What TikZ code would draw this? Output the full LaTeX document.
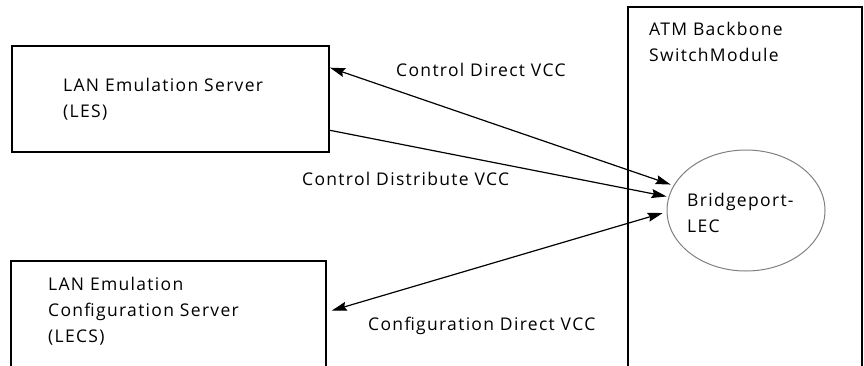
\documentclass[tikz,border=0pt]{standalone}
\usepackage{fontspec}
\setmainfont{Open Sans}[LetterSpace=7.5]
\usetikzlibrary{arrows.meta,calc,shapes.geometric}
\tikzset{
  box/.style={draw=black, line width=2pt, rectangle, inner sep=0pt},
  lecnode/.style={draw=black!50, line width=1pt, ellipse, inner sep=0pt},
  lbl/.style={anchor=west, inner sep=0pt, align=left, font=\fontsize{17.5}{26}\selectfont},
  link/.style={line width=1.2pt, {Stealth[length=15pt,width=9pt,inset=2pt]}-{Stealth[length=15pt,width=9pt,inset=2pt]}},
  onelink/.style={line width=1.2pt, -{Stealth[length=15pt,width=9pt,inset=2pt]}},
}
\begin{document}
\begin{tikzpicture}[x=1pt, y=-1pt]
\useasboundingbox (0,0) rectangle (864,365);
\clip (0,0) rectangle (864,365);
% server boxes
\node[box, minimum width=317pt, minimum height=106pt] (les) at (170.5,99) {};
\node[box, minimum width=315pt, minimum height=130pt] (lecs) at (168.5,326) {};
\node[box, minimum width=234pt, minimum height=400pt] (atm) at (745,207) {};
% client ellipse
\node[lecnode, minimum width=158pt, minimum height=121pt] (lec) at (746,210.5) {};
% texts
\node[lbl] (lestxt) at (63,99) {LAN Emulation Server\\(LES)};
\node[lbl] (lecstxt) at (48,311) {LAN Emulation\\Configuration Server\\(LECS)};
\node[lbl] (atmtxt) at (649,41.5) {ATM Backbone\\SwitchModule};
\node[lbl] (lectxt) at (687,213) {Bridgeport-\\LEC};
% connectors
\draw[link, shorten >=3pt] ($(les.north east)!0.21!(les.south east)$) -- (lec.161.5);
\draw[onelink, shorten >=2pt] ($(les.north east)!0.79!(les.south east)$) -- (lec.170.3);
\draw[link, shorten >=4pt, shorten <=5pt] ([yshift=-52pt]lecs.north east) -- (lec.181.7);
% connector labels
\node[lbl] (cd) at (396,70) {Control Direct VCC};
\node[lbl] (cdist) at (302,179) {Control Distribute VCC};
\node[lbl] (cfg) at (368,326) {Configuration Direct VCC};
\end{tikzpicture}
\end{document}
